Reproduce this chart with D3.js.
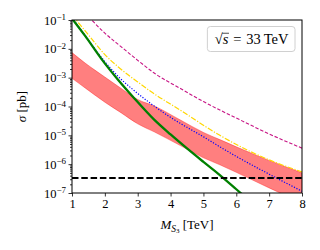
<!DOCTYPE html>
<html>
<head>
  <meta charset="utf-8">
  <title>S3 pair production cross section, 33 TeV</title>
  <script src="https://d3js.org/d3.v7.min.js"></script>
  <style>
    body { margin: 0; background: #fff; }
    svg text { font-family: "Liberation Serif", "DejaVu Serif", serif; fill: #000; }
  </style>
</head>
<body>
<div id="chart"></div>
<script>

  //
  // Data (mass in TeV, sigma in pb)

  var xTicks = [1, 2, 3, 4, 5, 6, 7, 8];
  var yTicks = [1e-7, 1e-6, 1e-5, 1e-4, 1e-3, 1e-2, 1e-1];
  var yTickExponents = ["−7", "−6", "−5", "−4", "−3", "−2", "−1"];

  // red band (upper / lower edge)
  var massBand = [1.0, 1.4, 2.0, 2.5, 3.0, 3.5, 4.3, 5.0, 5.5, 6.0, 7.0, 8.0];
  var sigmaBandHigh = [7.4e-3, 3.2e-3, 1.05e-3, 4.2e-4, 1.75e-4, 1.05e-4, 3.4e-5, 1.26e-5, 7.1e-6, 4.0e-6, 1.35e-6, 5.0e-7];
  var sigmaBandLow = [9.5e-4, 4.4e-4, 1.41e-4, 6.0e-5, 2.5e-5, 1.32e-5, 4.4e-6, 1.66e-6, 9.5e-7, 5.2e-7, 1.5e-7, 4.5e-8];

  // magenta dashed
  var massMagenta = [1.4, 1.6, 2.0, 2.5, 3.0, 3.5, 4.3, 5.0, 6.1, 7.0, 8.0];
  var sigmaMagenta = [1.78e-1, 1.0e-1, 3.5e-2, 1.17e-2, 4.0e-3, 1.45e-3, 4.2e-4, 1.48e-4, 3.5e-5, 1.12e-5, 3.6e-6];

  // yellow dash-dot
  var massYellow = [1.0, 1.4, 1.7, 2.0, 2.4, 3.0, 3.4, 4.3, 5.5, 6.1, 7.0, 8.0];
  var sigmaYellow = [1.5e-1, 4.2e-2, 1.6e-2, 6.3e-3, 2.4e-3, 7.1e-4, 3.3e-4, 7.4e-5, 1.0e-5, 4.2e-6, 1.41e-6, 5.4e-7];

  // blue dotted
  var massBlue = [1.0, 1.4, 1.8, 2.4, 2.9, 3.4, 4.0, 4.5, 5.0, 5.5, 6.0, 7.0, 8.0];
  var sigmaBlue = [1.17e-1, 2.9e-2, 6.9e-3, 1.12e-3, 3.5e-4, 1.26e-4, 4.2e-5, 1.9e-5, 8.9e-6, 4.0e-6, 1.86e-6, 4.5e-7, 1.15e-7];

  // green solid
  var massGreen = [1.0, 1.4, 1.9, 2.4, 2.9, 3.5, 4.0, 4.5, 5.0, 5.5, 6.0, 6.25];
  var sigmaGreen = [1.12e-1, 2.8e-2, 4.4e-3, 8.5e-4, 1.9e-4, 3.5e-5, 1.07e-5, 3.5e-6, 1.2e-6, 4.2e-7, 1.35e-7, 7.6e-8];

  // black dashed horizontal
  var sigmaLimit = 3.3e-7;

  //
  // Layout

  var width = 320, height = 250;
  var margin = {top: 20, right: 18, bottom: 57, left: 72};
  var serif = '"Liberation Serif", "DejaVu Serif", serif';

  var svg = d3.select("#chart").append("svg")
      .attr("width", width)
      .attr("height", height);

  var x = d3.scaleLinear().domain([1, 8]).range([margin.left, width - margin.right]);
  var y = d3.scaleLog().domain([1e-7, 1e-1]).range([height - margin.bottom, margin.top]);

  svg.append("clipPath").attr("id", "plot-clip")
    .append("rect")
      .attr("x", x.range()[0])
      .attr("y", y.range()[1])
      .attr("width", x.range()[1] - x.range()[0])
      .attr("height", y.range()[0] - y.range()[1]);

  var plot = svg.append("g").attr("clip-path", "url(#plot-clip)");

  function zip(ms, ss) {
    return ms.map(function(m, i) { return [m, ss[i]]; });
  }

  var line = d3.line()
      .x(function(d) { return x(d[0]); })
      .y(function(d) { return y(d[1]); })
      .curve(d3.curveMonotoneX);

  //Band
  var bandData = massBand.map(function(m, i) { return [m, sigmaBandLow[i], sigmaBandHigh[i]]; });
  plot.append("path")
      .datum(bandData)
      .attr("d", d3.area()
        .x(function(d) { return x(d[0]); })
        .y0(function(d) { return y(d[1]); })
        .y1(function(d) { return y(d[2]); })
        .curve(d3.curveMonotoneX))
      .attr("fill", "red")
      .attr("fill-opacity", 0.5)
      .attr("stroke", "red")
      .attr("stroke-opacity", 0.35)
      .attr("stroke-width", 1);

  //Curves
  var curves = [
    {m: massMagenta, s: sigmaMagenta, color: "#c71585", width: 1.1, dash: "3.5,1.8"},
    {m: massYellow, s: sigmaYellow, color: "#ffd700", width: 1.2, dash: "5.5,1.6,1.2,1.6"},
    {m: massBlue, s: sigmaBlue, color: "blue", width: 1.2, dash: "1.2,1.6"},
    {m: massGreen, s: sigmaGreen, color: "green", width: 2.3, dash: null}
  ];

  curves.forEach(function(c) {
    plot.append("path")
        .datum(zip(c.m, c.s))
        .attr("d", line)
        .attr("fill", "none")
        .attr("stroke", c.color)
        .attr("stroke-width", c.width)
        .attr("stroke-dasharray", c.dash);
  });

  plot.append("line")
      .attr("x1", x.range()[0]).attr("x2", x.range()[1])
      .attr("y1", y(sigmaLimit)).attr("y2", y(sigmaLimit))
      .attr("stroke", "#000")
      .attr("stroke-width", 1.9)
      .attr("stroke-dasharray", "6.5,2.8");

  //
  // Axes

  var xAxis = svg.append("g")
      .attr("transform", "translate(0," + y.range()[0] + ")")
      .call(d3.axisBottom(x).tickValues(xTicks).tickFormat(d3.format("d"))
        .tickSizeInner(3.5).tickSizeOuter(0).tickPadding(3))
      .attr("font-family", serif);
  xAxis.selectAll("text").attr("font-size", 12.5);

  var minor = [];
  for (var k = -7; k < -1; k++) {
    for (var j = 2; j < 10; j++) minor.push(j * Math.pow(10, k));
  }
  svg.append("g")
      .attr("transform", "translate(" + x.range()[0] + ",0)")
      .call(d3.axisLeft(y).tickValues(minor).tickSizeInner(2).tickSizeOuter(0).tickFormat(""))
      .call(function(g) { g.select(".domain").remove(); });

  var yAxis = svg.append("g")
      .attr("transform", "translate(" + x.range()[0] + ",0)")
      .call(d3.axisLeft(y).tickValues(yTicks).tickSizeInner(3.5).tickSizeOuter(0).tickPadding(2.5).tickFormat(""))
      .attr("font-family", serif);

  yAxis.selectAll(".tick text").each(function(d, i) {
    var t = d3.select(this).attr("font-size", 12.5);
    t.append("tspan").text("10");
    t.append("tspan").attr("font-size", 9).attr("dy", "-0.5em").text(yTickExponents[i]);
  });

  svg.selectAll(".domain").attr("stroke", "none");
  svg.selectAll(".tick line").attr("stroke", "#000").attr("stroke-width", 0.8);

  //Frame
  svg.append("rect")
      .attr("x", x.range()[0])
      .attr("y", y.range()[1])
      .attr("width", x.range()[1] - x.range()[0])
      .attr("height", y.range()[0] - y.range()[1])
      .attr("fill", "none")
      .attr("stroke", "#000")
      .attr("stroke-width", 1);

  //Axis labels
  var xLabel = svg.append("text")
      .attr("x", (x.range()[0] + x.range()[1]) / 2)
      .attr("y", 229)
      .attr("text-anchor", "middle")
      .attr("font-size", 13);
  xLabel.append("tspan").attr("font-style", "italic").text("M");
  xLabel.append("tspan").attr("font-style", "italic").attr("font-size", 9.5).attr("dy", 2.5).text("S");
  xLabel.append("tspan").attr("font-size", 7).attr("dy", 1.5).text("3");
  xLabel.append("tspan").attr("dy", -4).text(" [TeV]");

  var yLabel = svg.append("text")
      .attr("transform", "translate(26," + ((y.range()[0] + y.range()[1]) / 2) + ") rotate(-90)")
      .attr("text-anchor", "middle")
      .attr("font-size", 13);
  yLabel.append("tspan").attr("font-style", "italic").text("σ");
  yLabel.append("tspan").text(" [pb]");

  //
  // Legend box with sqrt(s)

  var legend = svg.append("g");
  var legendBox = legend.append("rect")
      .attr("rx", 3).attr("ry", 3)
      .attr("fill", "#fff")
      .attr("fill-opacity", 0.8)
      .attr("stroke", "#d0d0d0")
      .attr("stroke-width", 1);
  var legendText = legend.append("text")
      .attr("font-size", 14.5)
      .attr("text-anchor", "end")
      .attr("x", x.range()[1] - 13.5)
      .attr("y", y.range()[1] + 24);
  legendText.append("tspan").text("√");
  legendText.append("tspan").attr("font-style", "italic").text("s");
  legendText.append("tspan").text("\u2004=\u200433\u2009TeV");

  var node = legendText.node();
  var rootBox = node.getExtentOfChar(0);
  var sBox = node.getExtentOfChar(1);
  var barY = rootBox.y + rootBox.height * 0.14;
  legend.append("line")
      .attr("x1", rootBox.x + rootBox.width - 0.6)
      .attr("x2", sBox.x + sBox.width + 0.5)
      .attr("y1", barY).attr("y2", barY)
      .attr("stroke", "#000")
      .attr("stroke-width", 0.7);

  var tb = node.getBBox();
  legendBox
      .attr("x", tb.x - 7.5)
      .attr("y", y.range()[1] + 6.5)
      .attr("width", tb.width + 13.5)
      .attr("height", 25);

</script>
</body>
</html>
